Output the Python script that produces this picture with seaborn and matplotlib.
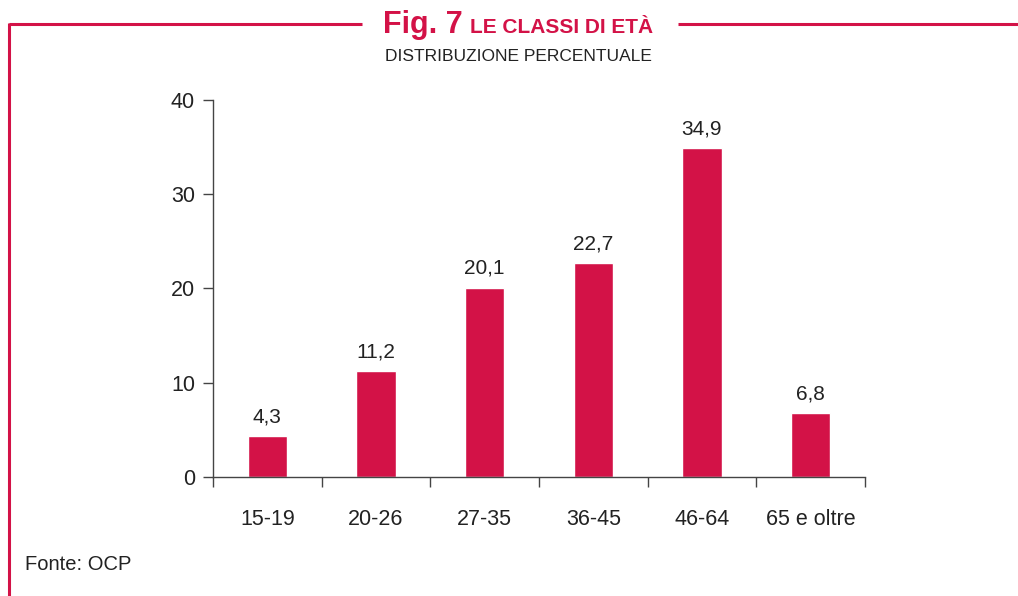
import matplotlib
matplotlib.use("Agg")
import matplotlib.pyplot as plt
from matplotlib.lines import Line2D
from matplotlib.ticker import FixedLocator
import seaborn as sns

# --- dati ---
classi = ["15-19", "20-26", "27-35", "36-45", "46-64", "65 e oltre"]
percentuali = [4.3, 11.2, 20.1, 22.7, 34.9, 6.8]
etichette = ["4,3", "11,2", "20,1", "22,7", "34,9", "6,8"]
y_ticks = [0, 10, 20, 30, 40]

ROSSO = "#d31247"
GRIGIO = "#222222"

sns.set_theme(style="white")
plt.rcParams["font.family"] = ["Liberation Sans", "DejaVu Sans"]

fig = plt.figure(figsize=(10.18, 5.96), dpi=100)
ax = fig.add_axes([0.2092, 0.1997, 0.6405, 0.6325])

sns.barplot(x=classi, y=percentuali, color=ROSSO, width=0.36, saturation=1, ax=ax)

ax.set_ylim(0, 40)
ax.set_xlim(-0.5, len(classi) - 0.5)
ax.set_yticks(y_ticks)
ax.set_xlabel("")
ax.set_ylabel("")

for s in ["top", "right"]:
    ax.spines[s].set_visible(False)
for s in ["left", "bottom"]:
    ax.spines[s].set_color("#444444")
    ax.spines[s].set_linewidth(1.0)

# tacche sull'asse x ai confini delle classi
ax.xaxis.set_minor_locator(FixedLocator([i - 0.5 for i in range(len(classi) + 1)]))
ax.tick_params(axis="x", which="major", length=0, pad=23, labelsize=15.5, labelcolor=GRIGIO)
ax.tick_params(axis="x", which="minor", bottom=True, length=7, width=1, color="#444444", direction="out")
ax.tick_params(axis="y", which="major", left=True, length=7, width=1, color="#444444",
               direction="out", pad=6, labelsize=15.5, labelcolor=GRIGIO)

ax.bar_label(ax.containers[0], labels=etichette, padding=7, fontsize=15, color=GRIGIO)

# titolo
fig.text(0.455, 0.9446, "Fig. 7", ha="right", va="baseline", fontsize=22,
         fontweight="bold", color=ROSSO)
fig.text(0.462, 0.9446, "LE CLASSI DI ETÀ", ha="left", va="baseline", fontsize=15,
         fontweight="bold", color=ROSSO)
fig.text(0.509, 0.898, "DISTRIBUZIONE PERCENTUALE", ha="center", va="baseline",
         fontsize=12.5, color=GRIGIO)

# cornice rossa
y_top = 1 - 24 / 596
x_left = 9 / 1018
fig.add_artist(Line2D([x_left, 362 / 1018], [y_top, y_top], color=ROSSO, lw=2.2,
                      transform=fig.transFigure, solid_capstyle="butt"))
fig.add_artist(Line2D([678 / 1018, 1.0], [y_top, y_top], color=ROSSO, lw=2.2,
                      transform=fig.transFigure, solid_capstyle="butt"))
fig.add_artist(Line2D([x_left, x_left], [y_top + 0.002, 0.0], color=ROSSO, lw=2.2,
                      transform=fig.transFigure, solid_capstyle="butt"))

fig.text(25 / 1018, 1 - 570 / 596, "Fonte: OCP", ha="left", va="baseline",
         fontsize=14.5, color=GRIGIO)

fig.savefig("out.png", dpi=100)
